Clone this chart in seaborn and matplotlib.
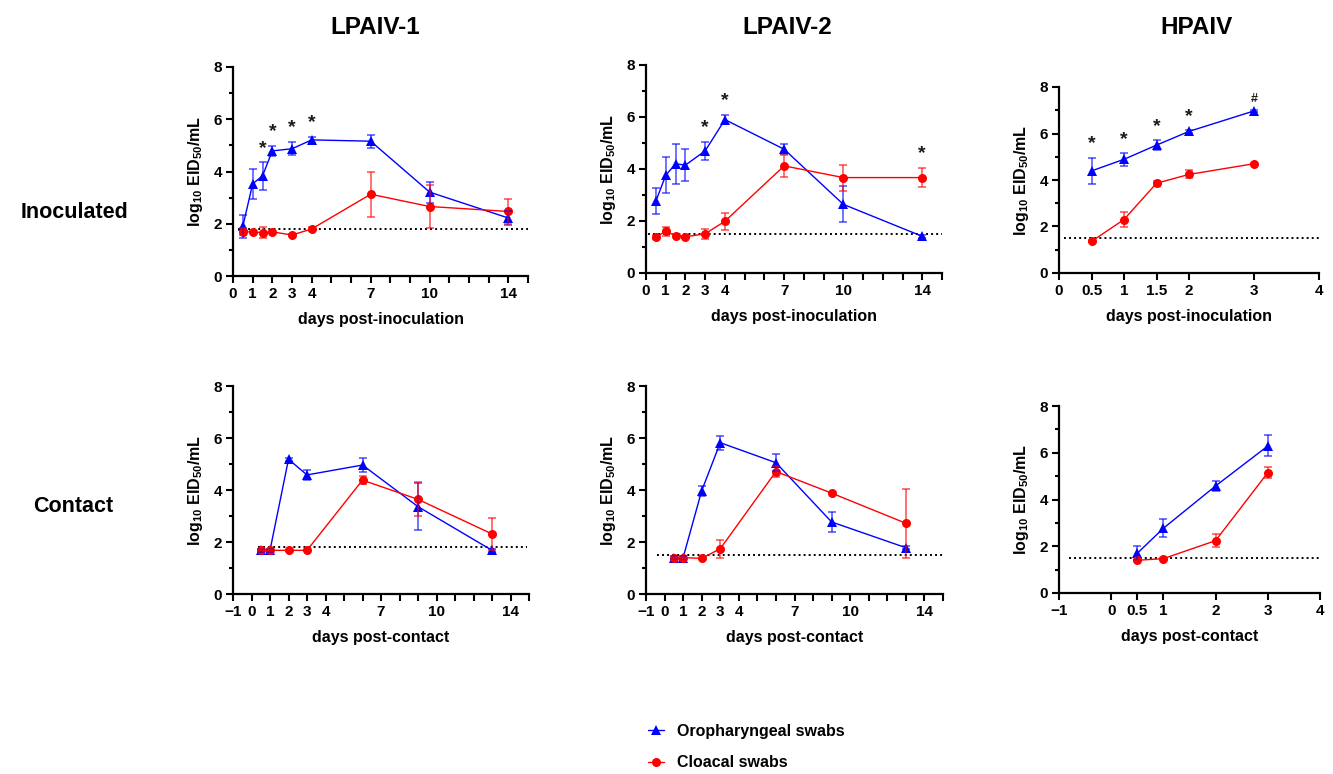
import numpy as np
import pandas as pd
import matplotlib
matplotlib.use('Agg')
import matplotlib.pyplot as plt
from matplotlib.lines import Line2D
import seaborn as sns

# ── Data (log10 EID50/mL, mean and error) ──
ORO = 'Oropharyngeal swabs'
CLO = 'Cloacal swabs'

# LPAIV-1, inoculated
days_l1_inoc = [0.5, 1, 1.5, 2, 3, 4, 7, 10, 14]
oro_l1_inoc = [1.90, 3.53, 3.83, 4.79, 4.87, 5.21, 5.16, 3.21, 2.22]
oro_l1_inoc_err = [0.45, 0.58, 0.52, 0.20, 0.25, 0.10, 0.25, 0.40, 0.25]
clo_l1_inoc = [1.69, 1.69, 1.66, 1.69, 1.57, 1.80, 3.13, 2.66, 2.47]
clo_l1_inoc_err = [0.13, 0.05, 0.20, 0.05, 0.03, 0.08, 0.86, 0.84, 0.47]
stars_l1_inoc = [(1.5, '*', 'oro'), (2, '*', 'oro'), (3, '*', 'oro'), (4, '*', 'oro')]

# LPAIV-2, inoculated
days_l2_inoc = [0.5, 1, 1.5, 2, 3, 4, 7, 10, 14]
oro_l2_inoc = [2.76, 3.76, 4.20, 4.15, 4.70, 5.90, 4.76, 2.64, 1.41]
oro_l2_inoc_err = [0.50, 0.69, 0.77, 0.62, 0.35, 0.17, 0.20, 0.69, 0.05]
clo_l2_inoc = [1.39, 1.60, 1.44, 1.39, 1.51, 1.99, 4.12, 3.67, 3.67]
clo_l2_inoc_err = [0.07, 0.17, 0.05, 0.05, 0.20, 0.33, 0.43, 0.50, 0.38]
stars_l2_inoc = [(3, '*', 'oro'), (4, '*', 'oro'), (14, '*', 'clo')]

# HPAIV, inoculated
days_hp_inoc = [0.5, 1, 1.5, 2, 3]
oro_hp_inoc = [4.39, 4.89, 5.50, 6.09, 6.97]
oro_hp_inoc_err = [0.57, 0.27, 0.20, 0.06, 0.05]
clo_hp_inoc = [1.36, 2.30, 3.86, 4.24, 4.70]
clo_hp_inoc_err = [0.04, 0.33, 0.10, 0.17, 0.05]
stars_hp_inoc = [(0.5, '*', 'oro'), (1, '*', 'oro'), (1.5, '*', 'oro'),
                 (2, '*', 'oro'), (3, '#', 'oro')]

# LPAIV-1, contact
days_l1_cont = [0.5, 1, 2, 3, 6, 9, 13]
oro_l1_cont = [1.68, 1.68, 5.18, 4.58, 4.96, 3.36, 1.68]
oro_l1_cont_err = [0.05, 0.05, 0.05, 0.20, 0.27, 0.90, 0.05]
clo_l1_cont = [1.68, 1.68, 1.68, 1.68, 4.38, 3.64, 2.31]
clo_l1_cont_err = [0.04, 0.04, 0.03, 0.03, 0.15, 0.65, 0.62]

# LPAIV-2, contact
days_l2_cont = [0.5, 1, 2, 3, 6, 9, 13]
oro_l2_cont = [1.40, 1.40, 3.97, 5.82, 5.05, 2.77, 1.78]
oro_l2_cont_err = [0.05, 0.05, 0.20, 0.27, 0.33, 0.38, 0.05]
clo_l2_cont = [1.40, 1.40, 1.37, 1.74, 4.71, 3.88, 2.72]
clo_l2_cont_err = [0.04, 0.04, 0.03, 0.35, 0.22, 0.05, 1.33]

# HPAIV, contact
days_hp_cont = [0.5, 1, 2, 3]
oro_hp_cont = [1.70, 2.77, 4.58, 6.29]
oro_hp_cont_err = [0.30, 0.38, 0.20, 0.45]
clo_hp_cont = [1.40, 1.47, 2.24, 5.15]
clo_hp_cont_err = [0.03, 0.04, 0.27, 0.25]

# detection limits
lod = [1.8, 1.5, 1.5, 1.8, 1.5, 1.5]

col_titles = ['LPAIV-1', 'LPAIV-2', 'HPAIV']
row_titles = ['Inoculated', 'Contact']

xt_lp_inoc = [0, 1, 2, 3, 4, 7, 10, 14]
xt_lp_cont = [-1, 0, 1, 2, 3, 4, 7, 10, 14]
xt_hp_inoc = [0, 0.5, 1, 1.5, 2, 3, 4]
xt_hp_cont = [-1, 0, 0.5, 1, 2, 3, 4]

BLUE = '#0000ff'
RED = '#ff0000'

sns.set_theme(style='ticks')
plt.rcParams['font.family'] = ['Liberation Sans', 'DejaVu Sans']
plt.rcParams['font.weight'] = 'bold'
plt.rcParams['axes.labelweight'] = 'bold'
plt.rcParams['mathtext.default'] = 'regular'
for key in ['text.color', 'axes.labelcolor', 'xtick.color', 'ytick.color',
            'axes.edgecolor']:
    plt.rcParams[key] = 'black'


def draw_panel(ax, days, oro, oro_err, clo, clo_err, lod_y, lod_span,
               xlim, ticks, labelled, xlabel, stars=None):
    df = pd.DataFrame({
        'day': list(days) * 2,
        'value': list(oro) + list(clo),
        'swab': [ORO] * len(days) + [CLO] * len(days),
    })
    ax.hlines(lod_y, lod_span[0], lod_span[1], colors='black',
              linestyles=(0, (1, 1.6)), linewidth=1.4, zorder=1)
    sns.lineplot(data=df, x='day', y='value', hue='swab', style='swab',
                 hue_order=[ORO, CLO], style_order=[ORO, CLO],
                 palette={ORO: BLUE, CLO: RED},
                 markers={ORO: '^', CLO: 'o'}, dashes=False,
                 markersize=6.5, markeredgewidth=0, linewidth=1.0,
                 errorbar=None, legend=False, ax=ax)
    ax.errorbar(days, oro, yerr=oro_err, fmt='none', ecolor=BLUE, alpha=0.7,
                elinewidth=1.1, capsize=3, capthick=1.1, zorder=2)
    ax.errorbar(days, clo, yerr=clo_err, fmt='none', ecolor=RED, alpha=0.7,
                elinewidth=1.1, capsize=3, capthick=1.1, zorder=2)

    if stars:
        for xs, sym, ser in stars:
            i = list(days).index(xs)
            top = oro[i] + oro_err[i] if ser == 'oro' else clo[i] + clo_err[i]
            ax.text(xs, top + 0.22, sym, ha='center', va='bottom',
                    fontsize=14 if sym == '*' else 9, fontweight='bold',
                    color='#1a1a1a')

    ax.set_xlim(*xlim)
    ax.set_ylim(0, 8)
    ax.set_xticks(ticks)
    ax.set_xticklabels([(f'{t:g}'.replace('-', '\u2212') if t in labelled else '')
                        for t in ticks])
    ax.set_yticks([0, 2, 4, 6, 8])
    ax.set_yticks([1, 3, 5, 7], minor=True)
    ax.tick_params(axis='both', which='major', length=5, width=1.5,
                   labelsize=11, pad=3, color='black')
    ax.tick_params(axis='y', which='minor', length=3, width=1.5, color='black')
    for lab in ax.get_xticklabels() + ax.get_yticklabels():
        lab.set_fontweight('bold')
    for side in ['left', 'bottom']:
        ax.spines[side].set_linewidth(1.6)
        ax.spines[side].set_color('black')
    sns.despine(ax=ax)
    ax.set_xlabel(xlabel, fontsize=11.5, fontweight='bold', labelpad=8)
    ax.set_ylabel(r'log$_{10}$ EID$_{50}$/mL', fontsize=11.5,
                  fontweight='bold', labelpad=6)


fig = plt.figure(figsize=(13.33, 7.74), dpi=100)
W, H = 1333, 774


def rect(left, top, right, bottom):
    return [left / W, 1 - bottom / H, (right - left) / W, (bottom - top) / H]


ax1 = fig.add_axes(rect(233, 67, 528, 276))
ax2 = fig.add_axes(rect(646, 65, 942, 273))
ax3 = fig.add_axes(rect(1059, 87, 1319, 273))
ax4 = fig.add_axes(rect(233, 386, 529, 594))
ax5 = fig.add_axes(rect(646, 386, 943, 594))
ax6 = fig.add_axes(rect(1059, 406, 1320, 593))

draw_panel(ax1, days_l1_inoc, oro_l1_inoc, oro_l1_inoc_err, clo_l1_inoc,
           clo_l1_inoc_err, lod[0], (0.25, 15), (0, 15), list(range(0, 16)),
           xt_lp_inoc, 'days post-inoculation', stars_l1_inoc)
draw_panel(ax2, days_l2_inoc, oro_l2_inoc, oro_l2_inoc_err, clo_l2_inoc,
           clo_l2_inoc_err, lod[1], (0.1, 15), (0, 15), list(range(0, 16)),
           xt_lp_inoc, 'days post-inoculation', stars_l2_inoc)
draw_panel(ax3, days_hp_inoc, oro_hp_inoc, oro_hp_inoc_err, clo_hp_inoc,
           clo_hp_inoc_err, lod[2], (0.07, 4), (0, 4), xt_hp_inoc,
           xt_hp_inoc, 'days post-inoculation', stars_hp_inoc)
draw_panel(ax4, days_l1_cont, oro_l1_cont, oro_l1_cont_err, clo_l1_cont,
           clo_l1_cont_err, lod[3], (0.35, 14.9), (-1, 15), list(range(-1, 16)),
           xt_lp_cont, 'days post-contact')
draw_panel(ax5, days_l2_cont, oro_l2_cont, oro_l2_cont_err, clo_l2_cont,
           clo_l2_cont_err, lod[4], (-0.4, 15), (-1, 15), list(range(-1, 16)),
           xt_lp_cont, 'days post-contact')
draw_panel(ax6, days_hp_cont, oro_hp_cont, oro_hp_cont_err, clo_hp_cont,
           clo_hp_cont_err, lod[5], (-0.8, 4), (-1, 4), xt_hp_cont,
           xt_hp_cont, 'days post-contact')

# ── Column and row titles ──
for xc, t in zip([375, 787, 1197], col_titles):
    fig.text(xc / W, 1 - 28 / H, t, ha='center', va='center',
             fontsize=17.5, fontweight='bold')
for (xc, yc), t in zip([(75, 213), (73, 506)], row_titles):
    fig.text(xc / W, 1 - yc / H, t, ha='center', va='center',
             fontsize=15.5, fontweight='bold')

# ── Legend ──
handles = [
    Line2D([], [], color=BLUE, marker='^', markersize=6.5, markeredgewidth=0,
           linewidth=1.0, label=ORO),
    Line2D([], [], color=RED, marker='o', markersize=6.5, markeredgewidth=0,
           linewidth=1.0, label=CLO),
]
leg = fig.legend(handles=handles, loc='center left',
                 bbox_to_anchor=(634 / W, 1 - 747 / H), frameon=False,
                 handlelength=1.0, handletextpad=0.8, labelspacing=1.05,
                 prop={'size': 11.5, 'weight': 'bold'})

fig.savefig('out.png', dpi=100, facecolor='white')
